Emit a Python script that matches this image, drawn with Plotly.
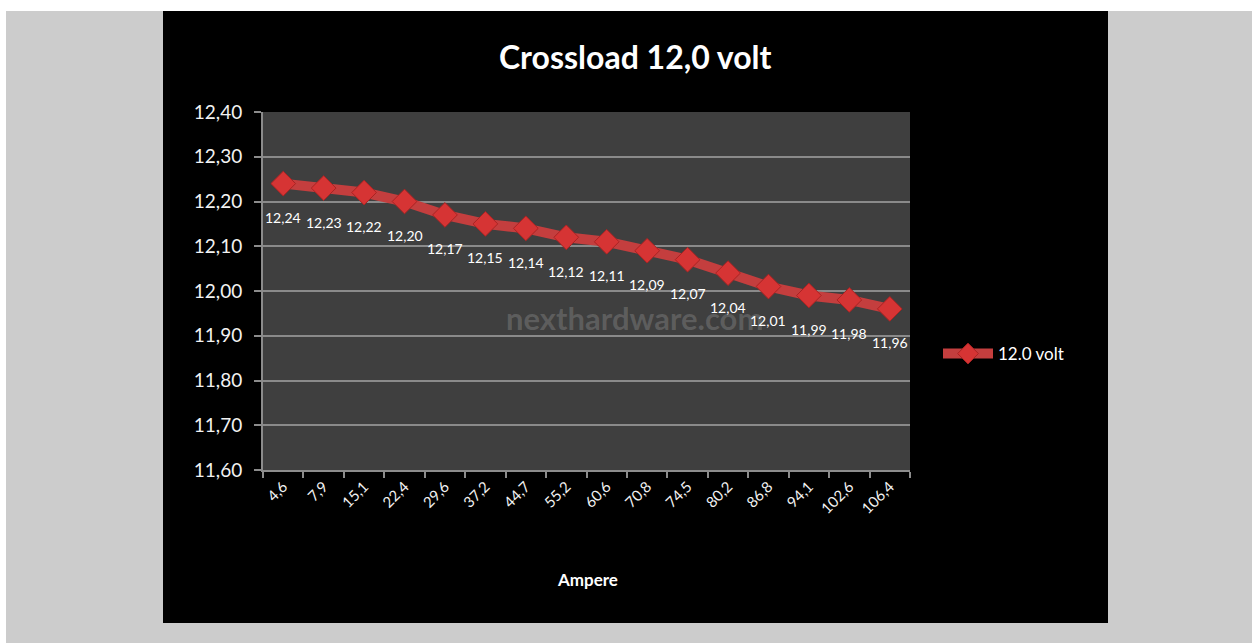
import plotly.graph_objects as go

# ---- data ----
ampere = ["4,6", "7,9", "15,1", "22,4", "29,6", "37,2", "44,7", "55,2",
          "60,6", "70,8", "74,5", "80,2", "86,8", "94,1", "102,6", "106,4"]
volt_12 = [12.24, 12.23, 12.22, 12.20, 12.17, 12.15, 12.14, 12.12,
           12.11, 12.09, 12.07, 12.04, 12.01, 11.99, 11.98, 11.96]
y_ticks = [11.6, 11.7, 11.8, 11.9, 12.0, 12.1, 12.2, 12.3, 12.4]
series_name = "12.0 volt"
title_text = "Crossload 12,0 volt"
x_title = "Ampere"
watermark = "nexthardware.com"

W, H = 1252, 643
L, R, T, B = 263, 910, 112, 470  # plot area in pixels


def px(x):
    return (x - L) / (R - L)


def py(y):
    return (B - y) / (B - T)


FONT = "Lato"

fig = go.Figure()
fig.add_trace(go.Scatter(
    x=ampere, y=volt_12, mode="lines+markers", name=series_name,
    line=dict(color="rgb(196,62,62)", width=10),
    marker=dict(symbol="diamond", size=19, color="rgb(214,52,52)",
                line=dict(color="rgb(170,35,35)", width=1)),
    hoverinfo="x+y",
))

annotations = []
for xv, yv in zip(ampere, volt_12):
    annotations.append(dict(
        x=xv, y=yv, xref="x", yref="y", text=f"{yv:.2f}".replace(".", ","),
        showarrow=False, yshift=-34, yanchor="middle",
        font=dict(family=FONT, size=14, color="#ffffff")))

annotations.append(dict(x=px(635), y=py(57), xref="paper", yref="paper",
                        text=f"<b>{title_text}</b>", showarrow=False,
                        xanchor="center", yanchor="middle",
                        font=dict(family=FONT, size=32, color="#ffffff")))
annotations.append(dict(x=px(587), y=py(579), xref="paper", yref="paper",
                        text=f"<b>{x_title}</b>", showarrow=False,
                        xanchor="center", yanchor="middle",
                        font=dict(family=FONT, size=17, color="#ffffff")))
annotations.append(dict(x=px(634), y=py(318), xref="paper", yref="paper",
                        text=f"<b>{watermark}</b>", showarrow=False,
                        xanchor="center", yanchor="middle",
                        font=dict(family=FONT, size=31, color="rgba(255,255,255,0.16)")))

shapes = [
    dict(type="rect", xref="paper", yref="paper", layer="below",
         x0=px(6), x1=px(W + 5), y0=py(11), y1=py(H + 5),
         fillcolor="#cccccc", line=dict(width=0)),
    dict(type="rect", xref="paper", yref="paper", layer="below",
         x0=px(163), x1=px(1108), y0=py(11), y1=py(623),
         fillcolor="#000000", line=dict(width=0)),
    dict(type="rect", xref="paper", yref="paper", layer="below",
         x0=0, x1=1, y0=0, y1=1,
         fillcolor="#3f3f3f", line=dict(width=0)),
]

fig.update_layout(
    width=W, height=H,
    margin=dict(l=L, r=W - R, t=T, b=H - B, pad=0),
    paper_bgcolor="#ffffff", plot_bgcolor="rgba(0,0,0,0)",
    separators=",.",
    showlegend=True,
    legend=dict(x=px(938), y=py(354), xanchor="left", yanchor="middle",
                bgcolor="rgba(0,0,0,0)", font=dict(family=FONT, size=17, color="#ffffff"),
                itemwidth=50),
    annotations=annotations,
    shapes=shapes,
    font=dict(family=FONT, color="#ffffff"),
)

fig.update_xaxes(
    type="category", tickson="boundaries", ticks="outside", ticklen=6,
    tickcolor="#8c8c8c", tickwidth=2, tickangle=-45,
    showline=True, linecolor="#8c8c8c", linewidth=2,
    showgrid=False, zeroline=False,
    tickfont=dict(family=FONT, size=15, color="#f2f2f2"),
    range=[-0.5, len(ampere) - 0.5],
)
fig.update_yaxes(
    range=[y_ticks[0], y_ticks[-1]], tickvals=y_ticks, tickformat=".2f",
    ticks="outside", ticklen=7, tickcolor="#8c8c8c", tickwidth=2,
    showline=True, linecolor="#8c8c8c", linewidth=2,
    showgrid=True, gridcolor="#8a8a8a", gridwidth=2, zeroline=False,
    tickfont=dict(family=FONT, size=19, color="#f2f2f2"),
    ticklabelstandoff=8,
)

fig.write_html("out.html",
               config={"displayModeBar": False},
               post_script="document.body.style.margin='0';document.body.style.overflow='hidden';")
